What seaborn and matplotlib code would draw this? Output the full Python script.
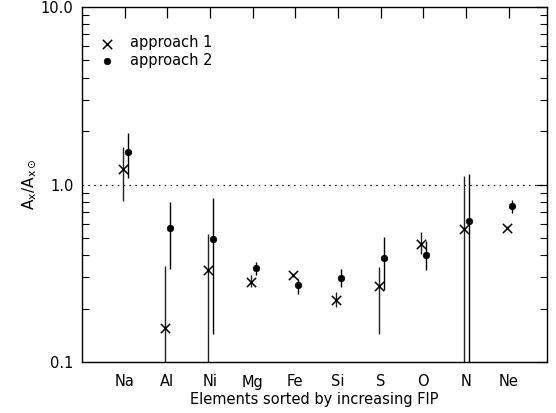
import numpy as np
import pandas as pd
import matplotlib
matplotlib.use("Agg")
import matplotlib.pyplot as plt
import seaborn as sns
from matplotlib.ticker import FixedLocator, LogLocator, NullFormatter, FixedFormatter

elements = ["Na", "Al", "Ni", "Mg", "Fe", "Si", "S", "O", "N", "Ne"]
# approach 1 (crosses)
a1_val = [1.215, 0.155, 0.329, 0.282, 0.308, 0.223, 0.267, 0.465, 0.565, 0.569]
a1_lo = [0.808, 0.05, 0.05, 0.263, 0.300, 0.204, 0.143, 0.408, 0.05, 0.560]
a1_hi = [1.63, 0.346, 0.529, 0.308, 0.315, 0.248, 0.343, 0.537, 1.11, 0.580]
# approach 2 (dots)
a2_val = [1.53, 0.569, 0.496, 0.340, 0.271, 0.299, 0.383, 0.403, 0.624, 0.755]
a2_lo = [1.09, 0.336, 0.143, 0.308, 0.241, 0.265, 0.256, 0.329, 0.05, 0.695]
a2_hi = [1.96, 0.798, 0.84, 0.367, 0.295, 0.332, 0.505, 0.48, 1.153, 0.816]

pos = np.arange(1, len(elements) + 1)
df1 = pd.DataFrame({"x": pos - 0.045, "y": a1_val, "approach": "approach 1"})
df2 = pd.DataFrame({"x": pos + 0.07, "y": a2_val, "approach": "approach 2"})

sns.set_style("white")
plt.rcParams["font.family"] = ["DejaVu Sans"]
plt.rcParams["text.color"] = "black"
plt.rcParams["axes.labelcolor"] = "black"
plt.rcParams["xtick.color"] = "black"
plt.rcParams["ytick.color"] = "black"
fig = plt.figure(figsize=(5.56, 4.13), dpi=100)
ax = fig.add_axes([82 / 556, 1 - 362 / 413, (547 - 82) / 556, (362 - 7) / 413])

ax.set_yscale("log")
ax.set_ylim(0.1, 10.0)
ax.set_xlim(0, 10.9)

ax.axhline(1.0, color="black", lw=0.9, ls=(0, (1.2, 3.5)), zorder=1)

ax.vlines(df1["x"], a1_lo, a1_hi, color="#222222", lw=1.0, zorder=2)
ax.vlines(df2["x"], a2_lo, a2_hi, color="black", lw=1.0, zorder=2)

sns.scatterplot(data=df1, x="x", y="y", marker="x", color="black", s=45,
                linewidth=1.1, ax=ax, label="approach 1", zorder=3)
sns.scatterplot(data=df2, x="x", y="y", marker="o", color="black", s=22,
                edgecolor="black", linewidth=0.5, ax=ax, label="approach 2", zorder=3)

ax.xaxis.set_major_locator(FixedLocator(pos))
ax.xaxis.set_major_formatter(FixedFormatter(elements))
ax.yaxis.set_major_locator(FixedLocator([0.1, 1.0, 10.0]))
ax.yaxis.set_major_formatter(FixedFormatter(["0.1", "1.0", "10.0"]))
ax.yaxis.set_minor_locator(LogLocator(base=10, subs=np.arange(2, 10)))
ax.yaxis.set_minor_formatter(NullFormatter())

ax.tick_params(axis="both", which="major", direction="in", length=8, width=0.9,
               top=True, right=True, labelsize=10.5, color="black", labelcolor="black")
ax.tick_params(axis="x", which="major", pad=9)
ax.tick_params(axis="y", which="major", pad=6)
ax.tick_params(axis="y", which="minor", direction="in", length=5, width=0.8,
               left=True, right=True)
for sp in ax.spines.values():
    sp.set_color("black")
    sp.set_linewidth(1.0)

ax.set_xlabel("Elements sorted by increasing FIP", fontsize=10.5, labelpad=2)
ax.set_ylabel(r"$\mathregular{A_x/A_{x\odot}}$", fontsize=11, labelpad=2)

leg = ax.legend(loc="upper left", bbox_to_anchor=(0.012, 0.953), frameon=False,
                fontsize=10.5, handletextpad=1.1, labelspacing=0.2,
                borderaxespad=0.4, handlelength=1.0)
for t in leg.get_texts():
    t.set_color("black")

fig.savefig("out.png", dpi=100)
